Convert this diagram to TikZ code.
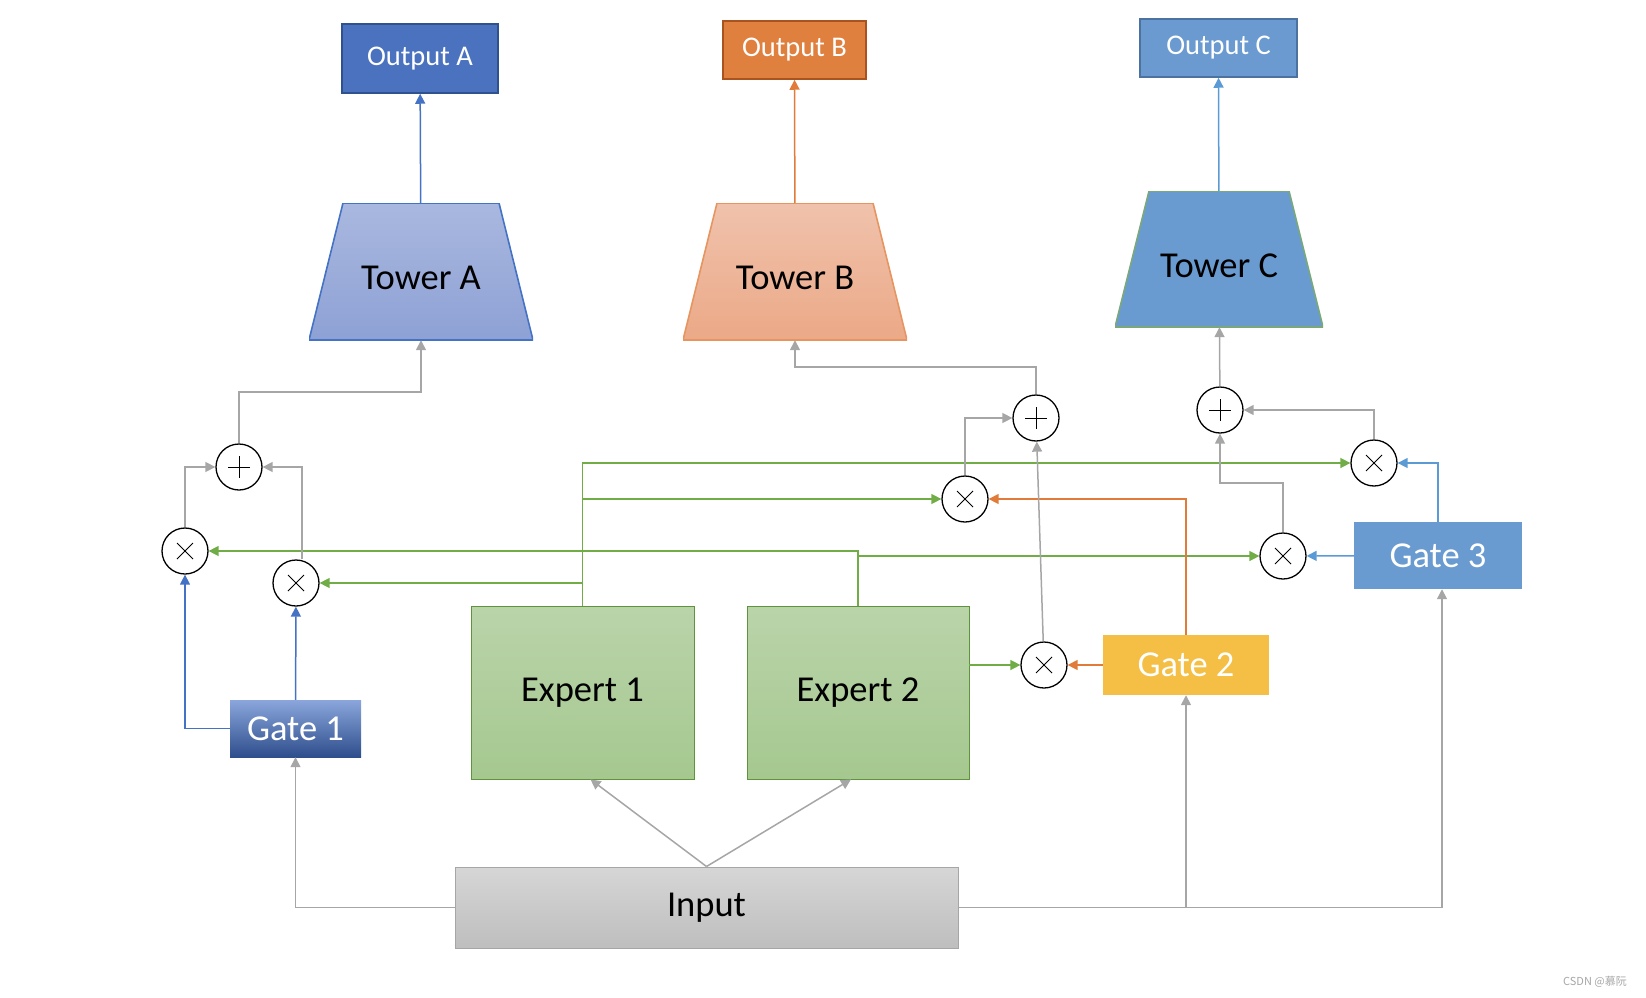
\documentclass[tikz,border=0pt]{standalone}
\usepackage{fontspec}
\setmainfont{Carlito}
\newfontfamily\cjk{Noto Sans CJK SC}
\usetikzlibrary{arrows.meta}
\definecolor{lgray}{HTML}{A6A6A6}
\definecolor{lgreen}{HTML}{70AD47}
\definecolor{lorange}{HTML}{E07B39}
\definecolor{lblue}{HTML}{4472C4}
\definecolor{lsky}{HTML}{5B9BD5}
\definecolor{skyfill}{RGB}{106,155,208}
\tikzstyle{bigtext}=[font=\fontsize{36.5}{40}\selectfont]
\tikzstyle{outbox}=[rectangle,draw,line width=1.5pt,text=white,font=\fontsize{28.5}{32}\selectfont]
\tikzset{tower/.style n args={3}{rectangle,bigtext,text height=36pt,text depth=0pt,path picture={
	\path[draw=#1,line width=1.6pt,top color=#2,bottom color=#3]
	(path picture bounding box.south west) -- (path picture bounding box.south east)
	-- ([xshift=-34]path picture bounding box.north east) -- ([xshift=34]path picture bounding box.north west) -- cycle;}}}
\tikzstyle{gatebox}=[rectangle,text=white,bigtext]
\tikzstyle{expertbox}=[rectangle,draw=lgreen!85!black,line width=0.8pt,bigtext]
\tikzstyle{opnode}=[circle,draw,line width=1.3pt,fill=white,minimum size=46pt,inner sep=0pt]
\tikzstyle{optimes}=[opnode,path picture={
	\draw[line width=0.9pt] ([shift={(-8,-8)}]path picture bounding box.center) -- ([shift={(8,8)}]path picture bounding box.center)
	([shift={(-8,8)}]path picture bounding box.center) -- ([shift={(8,-8)}]path picture bounding box.center);}]
\tikzstyle{opplus}=[opnode,path picture={
	\draw[line width=0.9pt] ([shift={(-11,0)}]path picture bounding box.center) -- ([shift={(11,0)}]path picture bounding box.center)
	([shift={(0,-11)}]path picture bounding box.center) -- ([shift={(0,11)}]path picture bounding box.center);}]
\tikzstyle{conn}=[line width=1.5pt,-{Triangle[length=10pt,width=10pt]}]
\newcommand{\opnode}{\node[optimes]}
\newcommand{\sumnode}{\node[opplus]}

\begin{document}
\begin{tikzpicture}[x=1pt,y=-1pt]
	\useasboundingbox (0,0) rectangle (1646,998);
	% % % % % % % % % % % % % % % % % % % % % % % % % % % % %
	%*********************
	\node[outbox,fill={rgb,255:red,74;green,114;blue,190},draw={rgb,255:red,47;green,82;blue,143},minimum width=156,minimum height=69] (outA) at (420,58.5) {Output A};
	\node[outbox,fill={rgb,255:red,224;green,128;blue,63},draw={rgb,255:red,169;green,84;blue,31},minimum width=143,minimum height=58] (outB) at (794.5,50) {Output B};
	\node[outbox,fill={rgb,255:red,106;green,154;blue,208},draw={rgb,255:red,76;green,114;blue,160},minimum width=157,minimum height=58] (outC) at (1218.5,48) {Output C};
	%*********************
	\node[tower={lblue}{{rgb,255:red,169;green,184;blue,223}}{{rgb,255:red,142;green,161;blue,213}},minimum width=224,minimum height=137] (towA) at (421,271.5) {Tower A};
	\node[tower={lorange!80}{{rgb,255:red,240;green,194;blue,172}}{{rgb,255:red,235;green,169;blue,135}},minimum width=224,minimum height=137] (towB) at (795,271.5) {Tower B};
	\node[tower={{rgb,255:red,122;green,168;blue,122}}{skyfill}{skyfill},minimum width=208,minimum height=136] (towC) at (1219,259) {Tower C};
	%*********************
	\sumnode (plusA) at (239,467) {};
	\opnode (timesA1) at (185,551) {};
	\opnode (timesA2) at (296,583) {};
	\sumnode (plusB) at (1036,418) {};
	\opnode (timesB1) at (965,499) {};
	\opnode (timesB2) at (1044,665) {};
	\sumnode (plusC) at (1220,410) {};
	\opnode (timesC1) at (1283,556) {};
	\opnode (timesC2) at (1374,463) {};
	%*********************
	\node[gatebox,top color={rgb,255:red,138;green,166;blue,220},bottom color={rgb,255:red,46;green,78;blue,140},minimum width=131,minimum height=57] (gate1) at (295.5,728.5) {Gate 1};
	\node[gatebox,fill={rgb,255:red,244;green,191;blue,68},minimum width=166,minimum height=60] (gate2) at (1186,665) {Gate 2};
	\node[gatebox,fill=skyfill,minimum width=168,minimum height=67] (gate3) at (1438,555.5) {Gate 3};
	%*********************
	\node[expertbox,top color={rgb,255:red,186;green,212;blue,170},bottom color={rgb,255:red,165;green,200;blue,143},minimum width=223,minimum height=173] (exp1) at (582.5,692.5) {Expert 1};
	\node[expertbox,top color={rgb,255:red,186;green,212;blue,170},bottom color={rgb,255:red,165;green,200;blue,143},minimum width=222,minimum height=173] (exp2) at (858,692.5) {Expert 2};
	\node[rectangle,draw=lgray,line width=1pt,top color={rgb,255:red,214;green,214;blue,214},bottom color={rgb,255:red,190;green,190;blue,190},minimum width=503,minimum height=81,bigtext] (input) at (706.5,907.5) {Input};
	%*********************
	\coordinate (kA) at (239,392);
	\coordinate (kB) at (1036,367);
	\coordinate (kC) at (1283,483);
	%*********************
	% input to experts and gates
	\draw[conn,lgray] (input.north) -- ([xshift=8]exp1.south);
	\draw[conn,lgray] (input.north) -- ([xshift=-7]exp2.south);
	\draw[conn,lgray] (input.west) -| (gate1);
	\draw[conn,lgray] (input.east) -| (gate2);
	\draw[conn,lgray] (input.east) -| ([xshift=4]gate3.south);
	%*********************
	% experts
	\draw[conn,lgreen] (exp1.north) |- (timesC2);
	\draw[conn,lgreen] (exp1.north |- timesB1) -- (timesB1);
	\draw[conn,lgreen] (exp1.north |- timesA2) -- (timesA2);
	\draw[conn,lgreen] (exp2.north) |- (timesA1);
	\draw[conn,lgreen] (exp2.north |- timesC1) -- (timesC1);
	\draw[conn,lgreen] (exp2.east |- timesB2) -- (timesB2);
	%*********************
	% gates
	\draw[conn,lblue] (gate1.west) -| (timesA1);
	\draw[conn,lblue] (gate1) -- (timesA2);
	\draw[conn,lorange] (gate2) |- (timesB1);
	\draw[conn,lorange] (gate2) -- (timesB2);
	\draw[conn,lsky] (gate3) |- (timesC2);
	\draw[conn,lsky] (gate3) -- (timesC1);
	%*********************
	% sums
	\draw[conn,lgray] (timesA1) |- (plusA);
	\draw[conn,lgray] ([xshift=6]timesA2.north) |- (plusA);
	\draw[conn,lgray] (timesB1) |- (plusB);
	\draw[conn,lgray] (timesB2) -- (plusB);
	\draw[conn,lgray] (timesC2) |- (plusC);
	\draw[conn,lgray] (timesC1) -- (kC) -| (plusC);
	%*********************
	% towers
	\draw[conn,lgray] (plusA) -- (kA) -| (towA);
	\draw[conn,lgray] (plusB) -- (kB) -| (towB);
	\draw[conn,lgray] (plusC) -- (towC);
	\draw[conn,lblue] (towA) -- (outA);
	\draw[conn,lorange] (towB) -- (outB);
	\draw[conn,lsky] (towC) -- (outC);
	%*********************
	\node[text=gray!70,font=\cjk\fontsize{11}{13}\selectfont] (mark) at (1595,982) {CSDN @慕阮};
\end{tikzpicture}
\end{document}
